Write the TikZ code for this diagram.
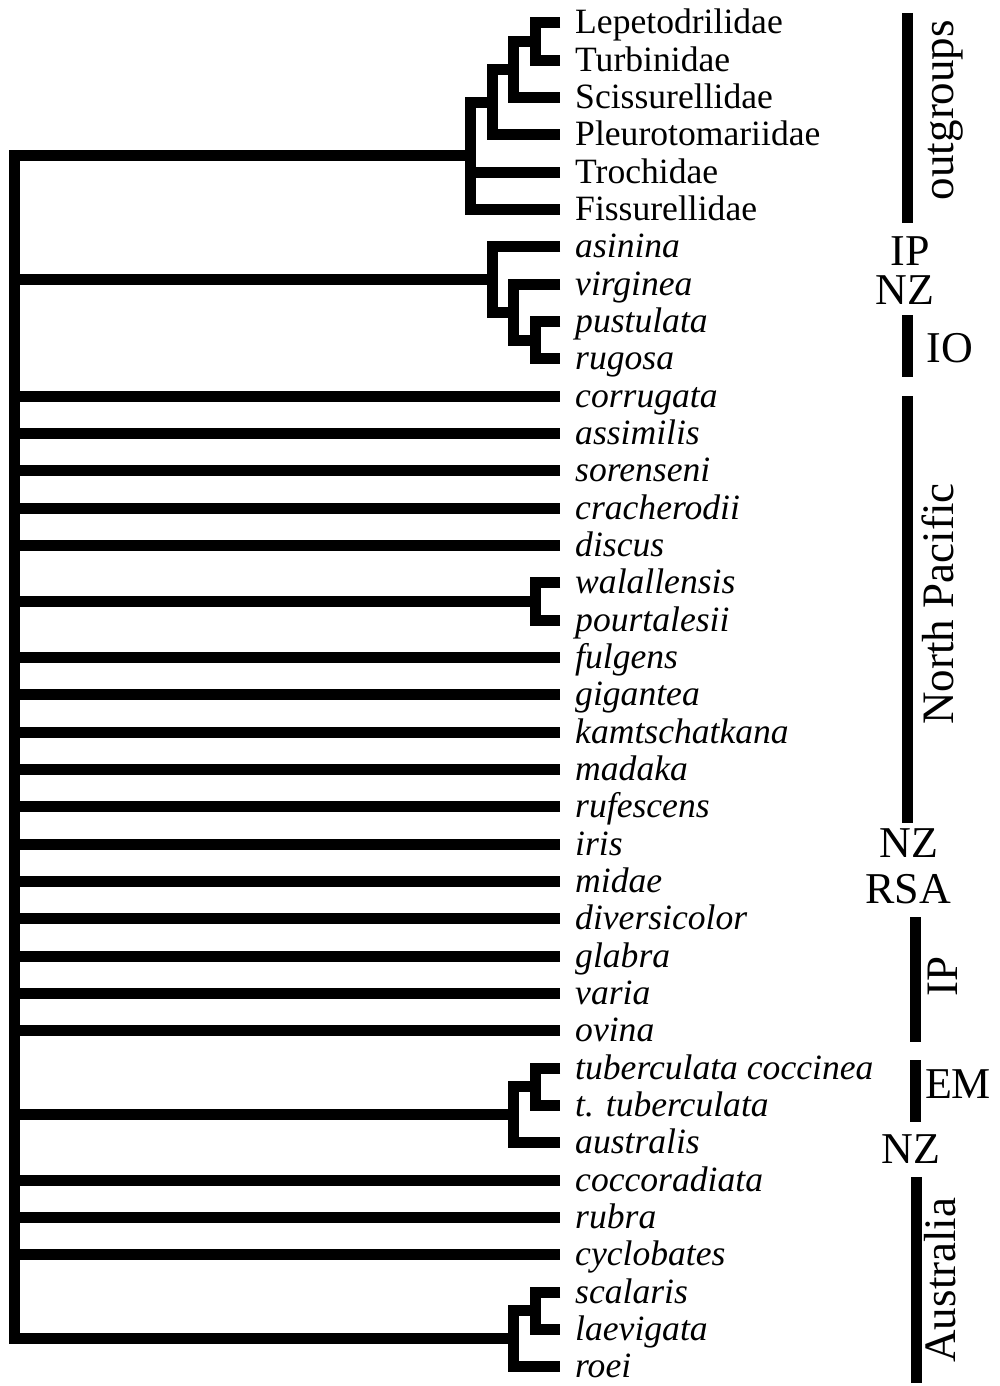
\documentclass[tikz,border=0pt]{standalone}
\usepackage{fontspec}
\setmainfont{Liberation Serif}
\newcommand\rowy[1]{{23+37.33*(#1)}}
\newcommand\tipA[3]{%
  \coordinate (t#1) at (560,\rowy{#1});
  \node[#3] (l#1) at (575,{34+37.33*(#1)}) {#2};}
\begin{document}
\begin{tikzpicture}[x=1pt,y=-1pt,
  br/.style={line width=11pt,line join=miter},
  barline/.style={line width=11pt},
  uplab/.style={anchor=base west,inner sep=0pt,font=\fontsize{35.6}{40}\selectfont},
  itlab/.style={anchor=base west,inner sep=0pt,font=\fontsize{35.6}{40}\selectfont\itshape},
  reg/.style={anchor=base,inner sep=0pt,text height=0.67em,text depth=0pt,font=\fontsize{44}{50}\selectfont},
  regrot/.style={anchor=base,inner sep=0pt,rotate=90,font=\fontsize{45}{50}\selectfont}]
\useasboundingbox (0,0) rectangle (1000,1386);
% tips
\tipA{0}{Lepetodrilidae}{uplab}
\tipA{1}{Turbinidae}{uplab}
\tipA{2}{Scissurellidae}{uplab}
\tipA{3}{Pleurotomariidae}{uplab}
\tipA{4}{Trochidae}{uplab}
\tipA{5}{Fissurellidae}{uplab}
\tipA{6}{asinina}{itlab}
\tipA{7}{virginea}{itlab}
\tipA{8}{pustulata}{itlab}
\tipA{9}{rugosa}{itlab}
\tipA{10}{corrugata}{itlab}
\tipA{11}{assimilis}{itlab}
\tipA{12}{sorenseni}{itlab}
\tipA{13}{cracherodii}{itlab}
\tipA{14}{discus}{itlab}
\tipA{15}{walallensis}{itlab}
\tipA{16}{pourtalesii}{itlab}
\tipA{17}{fulgens}{itlab}
\tipA{18}{gigantea}{itlab}
\tipA{19}{kamtschatkana}{itlab}
\tipA{20}{madaka}{itlab}
\tipA{21}{rufescens}{itlab}
\tipA{22}{iris}{itlab}
\tipA{23}{midae}{itlab}
\tipA{24}{diversicolor}{itlab}
\tipA{25}{glabra}{itlab}
\tipA{26}{varia}{itlab}
\tipA{27}{ovina}{itlab}
\tipA{28}{tuberculata coccinea}{itlab}
\tipA{29}{t. tuberculata}{itlab}
\tipA{30}{australis}{itlab}
\tipA{31}{coccoradiata}{itlab}
\tipA{32}{rubra}{itlab}
\tipA{33}{cyclobates}{itlab}
\tipA{34}{scalaris}{itlab}
\tipA{35}{laevigata}{itlab}
\tipA{36}{roei}{itlab}
% internal nodes
\coordinate (n1) at (535,\rowy{0.5});
\coordinate (n2) at (513,\rowy{1.25});
\coordinate (n3) at (492,\rowy{2.125});
\coordinate (og) at (470,\rowy{3.5625});
\coordinate (a3) at (535,\rowy{8.5});
\coordinate (a2) at (513,\rowy{7.75});
\coordinate (a1) at (492,\rowy{6.875});
\coordinate (w) at (535,\rowy{15.5});
\coordinate (tb2) at (535,\rowy{28.5});
\coordinate (tb1) at (513,\rowy{29.25});
\coordinate (au2) at (535,\rowy{34.5});
\coordinate (au1) at (513,\rowy{35.25});
\coordinate (root) at (14.5,\rowy{19.40625});
% outgroups
\draw[br] (t0) -| (n1) |- (t1);
\draw[br] (n1) -| (n2) |- (t2);
\draw[br] (n2) -| (n3) |- (t3);
\draw[br] (n3) -| (og) |- (t5);
\draw[br] (og) |- (t4);
% asinina clade
\draw[br] (t8) -| (a3) |- (t9);
\draw[br] (t7) -| (a2) |- (a3);
\draw[br] (t6) -| (a1) |- (a2);
% walallensis
\draw[br] (t15) -| (w) |- (t16);
% tuberculata
\draw[br] (t28) -| (tb2) |- (t29);
\draw[br] (tb2) -| (tb1) |- (t30);
% australia
\draw[br] (t34) -| (au2) |- (t35);
\draw[br] (au2) -| (au1) |- (t36);
% root
\draw[br] (og) -| (root) |- (au1);
\foreach \c in {a1,t10,t11,t12,t13,t14,w,t17,t18,t19,t20,t21,t22,t23,t24,t25,t26,t27,tb1,t31,t32,t33}
  \draw[br] (root) |- (\c);
% region bars
\coordinate (b1s) at (907.5,13);  \coordinate (b1e) at (907.5,223);
\coordinate (b2s) at (907.5,315); \coordinate (b2e) at (907.5,377);
\coordinate (b3s) at (907.5,396); \coordinate (b3e) at (907.5,823);
\coordinate (b4s) at (915.5,917); \coordinate (b4e) at (915.5,1042);
\coordinate (b5s) at (915,1060);  \coordinate (b5e) at (915,1122);
\coordinate (b6s) at (916,1177);  \coordinate (b6e) at (916,1383);
\draw[barline] (b1s) -- (b1e);
\draw[barline] (b2s) -- (b2e);
\draw[barline] (b3s) -- (b3e);
\draw[barline] (b4s) -- (b4e);
\draw[barline] (b5s) -- (b5e);
\draw[barline] (b6s) -- (b6e);
% region labels
\node[regrot] (rOut) at (953,110) {outgroups};
\node[reg] (rIP1) at (910,265) {IP};
\node[reg] (rNZ1) at (905,304) {NZ};
\node[reg] (rIO) at (950,362) {IO};
\node[regrot] (rNP) at (953,604) {North Pacific};
\node[reg] (rNZ2) at (909,857) {NZ};
\node[reg] (rRSA) at (908,903) {RSA};
\node[regrot] (rIP2) at (957,976) {IP};
\node[reg] (rEM) at (958,1098) {EM};
\node[reg] (rNZ3) at (911,1163) {NZ};
\node[regrot] (rAu) at (955,1280) {Australia};
\end{tikzpicture}
\end{document}
